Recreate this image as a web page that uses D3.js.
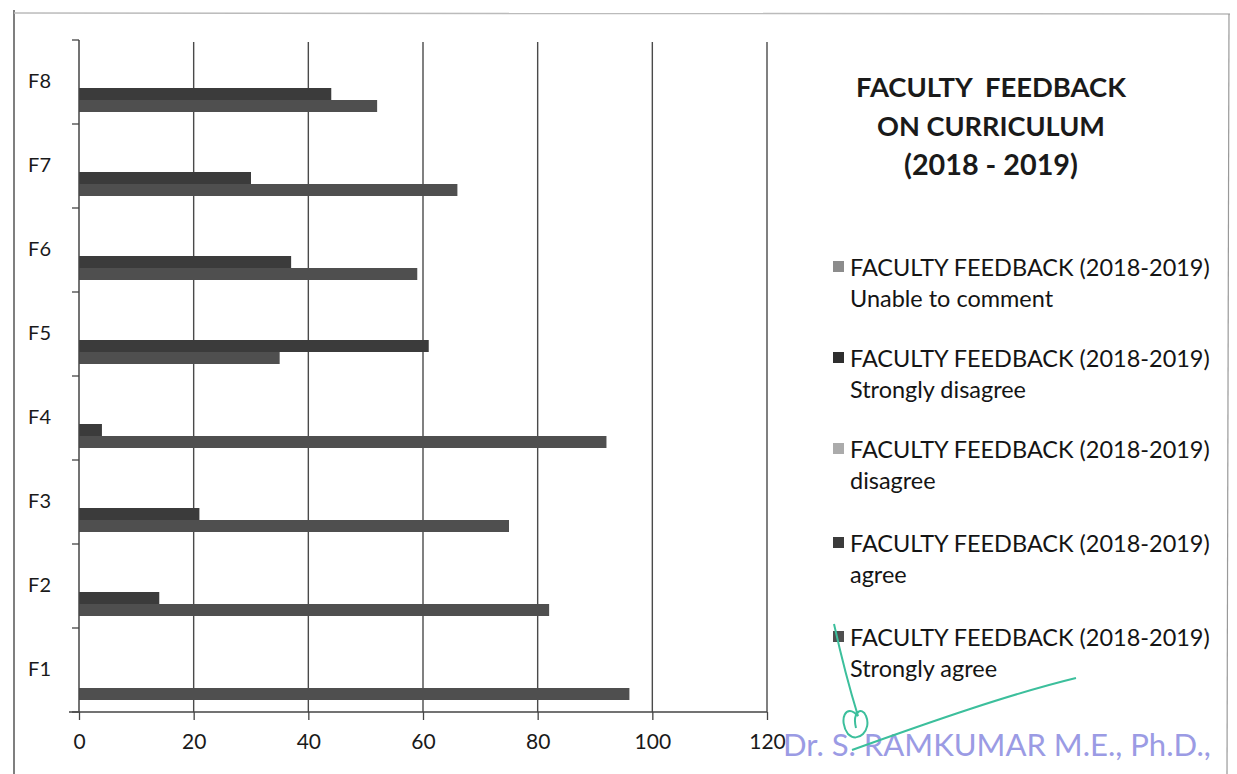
<!DOCTYPE html>
<html>
<head>
<meta charset="utf-8">
<script src="https://cdn.jsdelivr.net/npm/d3@7/dist/d3.min.js"></script>
<style>
  html, body { margin: 0; padding: 0; background: #ffffff; }
  svg { display: block; }
  text { font-family: "Lato", "Open Sans", sans-serif; white-space: pre; }
</style>
</head>
<body>
<svg id="chart" width="1237" height="774"></svg>
<script>
// ---- Data ----
const categories = ["F1", "F2", "F3", "F4", "F5", "F6", "F7", "F8"];
const stronglyAgree     = [96, 82, 75, 92, 35, 59, 66, 52];
const agree             = [0, 14, 21, 4, 61, 37, 30, 44];
const disagree          = [0, 0, 0, 0, 0, 0, 0, 0];
const stronglyDisagree  = [0, 0, 0, 0, 0, 0, 0, 0];
const unableToComment   = [0, 0, 0, 0, 0, 0, 0, 0];
const xTicks = [0, 20, 40, 60, 80, 100, 120];
const seriesNames = [
  "FACULTY FEEDBACK (2018-2019) Unable to comment",
  "FACULTY FEEDBACK (2018-2019) Strongly disagree",
  "FACULTY FEEDBACK (2018-2019) disagree",
  "FACULTY FEEDBACK (2018-2019) agree",
  "FACULTY FEEDBACK (2018-2019) Strongly agree"
];
const seriesShort = ["Unable to comment", "Strongly disagree", "disagree", "agree", "Strongly agree"];
const titleLines = ["FACULTY  FEEDBACK", "ON CURRICULUM", "(2018 - 2019)"];
const stampText = "Dr. S. RAMKUMAR M.E., Ph.D.,";

// series listed top-to-bottom (legend order); first series in data is at bottom of each group
const seriesValues = [unableToComment, stronglyDisagree, disagree, agree, stronglyAgree];
const seriesColors = ["#8c8c8c", "#2e2e2e", "#ababab", "#3b3b3b", "#4f4f4f"];

const svg = d3.select("#chart");

// outer frame (scanned document border)
svg.append("line").attr("x1", 14).attr("y1", 10).attr("x2", 14).attr("y2", 774)
  .attr("stroke", "#555").attr("stroke-width", 1.5);
svg.append("line").attr("x1", 14).attr("y1", 13).attr("x2", 1230).attr("y2", 14)
  .attr("stroke", "#bbb").attr("stroke-width", 1.5);
svg.append("line").attr("x1", 1229).attr("y1", 14).attr("x2", 1227).attr("y2", 774)
  .attr("stroke", "#999").attr("stroke-width", 1.2);

// ---- Scales ----
const x = d3.scaleLinear().domain([0, 120]).range([79, 767]);
const y0 = d3.scaleBand().domain(categories.slice().reverse()).range([40, 712]).padding(0);
const y1 = d3.scaleBand().domain(seriesNames).range([0, y0.bandwidth()])
  .paddingInner(0).paddingOuter(1);

// gridlines
const grid = svg.append("g");
grid.selectAll("line").data(xTicks.filter(t => t > 0)).join("line")
  .attr("x1", d => x(d)).attr("x2", d => x(d))
  .attr("y1", 42).attr("y2", 712)
  .attr("stroke", "#4a4a4a").attr("stroke-width", 1.4);

// bars
const groups = svg.append("g").selectAll("g").data(categories).join("g")
  .attr("transform", d => `translate(0,${y0(d)})`);
groups.selectAll("rect")
  .data((c, i) => seriesNames.map((s, k) => ({ s, k, v: seriesValues[k][i] })).filter(d => d.v > 0))
  .join("rect")
  .attr("x", x(0))
  .attr("y", d => y1(d.s))
  .attr("width", d => x(d.v) - x(0))
  .attr("height", y1.bandwidth())
  .attr("fill", d => seriesColors[d.k]);

// x axis
const xAxis = svg.append("g").attr("transform", "translate(0,712)")
  .call(d3.axisBottom(x).tickValues(xTicks).tickSize(8).tickPadding(14).tickSizeOuter(0));
xAxis.select(".domain").attr("stroke", "#444").attr("stroke-width", 1.5)
  .attr("d", `M${x(0) - 10},0H${x(120)}`);
xAxis.selectAll(".tick line").attr("stroke", "#444").attr("stroke-width", 1.3);
xAxis.selectAll(".tick text").attr("font-size", 21).style("fill", "#1a1a1a")
  .style("font-family", "Lato, sans-serif");

// y axis
const yAxis = svg.append("g").attr("transform", `translate(${x(0)},0)`)
  .call(d3.axisLeft(y0).tickSize(0).tickPadding(28));
yAxis.select(".domain").attr("stroke", "#444").attr("stroke-width", 1.5)
  .attr("d", `M0,40V712`);
yAxis.selectAll(".tick text").attr("font-size", 20).style("fill", "#1a1a1a")
  .style("font-family", "Lato, sans-serif");
// category boundary ticks
const bounds = categories.map(c => y0(c)).concat([712]);
svg.append("g").selectAll("line").data(bounds).join("line")
  .attr("x1", x(0) - 7).attr("x2", x(0))
  .attr("y1", d => d).attr("y2", d => d)
  .attr("stroke", "#444").attr("stroke-width", 1.3);

// ---- Title ----
const titleY = [86, 125, 164];
const titleW = [270, 228, 174];
titleLines.forEach((t, i) => {
  const el = svg.append("text").attr("x", 991).attr("y", titleY[i])
    .attr("text-anchor", "middle").attr("dominant-baseline", "central")
    .attr("font-weight", "bold").attr("font-size", 24).style("fill", "#1a1a1a").text(t);
  const w = el.node().getComputedTextLength();
  el.attr("font-size", 24 * titleW[i] / w);
});

// ---- Legend ----
const legendY = [267, 358, 449, 543, 637];
const lg = svg.append("g");
seriesNames.forEach((s, i) => {
  lg.append("rect").attr("x", 833).attr("y", legendY[i] - 6).attr("width", 11).attr("height", 11)
    .attr("fill", seriesColors[i]);
  const l1 = lg.append("text").attr("x", 850).attr("y", legendY[i])
    .attr("dominant-baseline", "central").attr("font-size", 20).style("fill", "#141414")
    .text("FACULTY FEEDBACK (2018-2019)");
  const w = l1.node().getComputedTextLength();
  const fs = 20 * 360 / w;
  l1.attr("font-size", fs);
  lg.append("text").attr("x", 850).attr("y", legendY[i] + 31)
    .attr("dominant-baseline", "central").attr("font-size", fs).style("fill", "#141414")
    .text(seriesShort[i]);
});

// ---- Stamp and signature ----
const stamp = svg.append("text").attr("x", 783).attr("y", 744)
  .attr("dominant-baseline", "central").attr("font-size", 24)
  .style("fill", "#8a8ae0").style("opacity", 0.85)
  .text(stampText);
const sw = stamp.node().getComputedTextLength();
stamp.attr("font-size", 24 * 428 / sw);

svg.append("path")
  .attr("d", "M834,624 C842,660 850,690 858,716 C846,702 838,720 848,734 C858,744 872,730 866,716 C862,706 852,712 856,728 M852,750 C930,722 1010,694 1076,678")
  .attr("fill", "none").attr("stroke", "#3cbf9c").attr("stroke-width", 2);
</script>
</body>
</html>
